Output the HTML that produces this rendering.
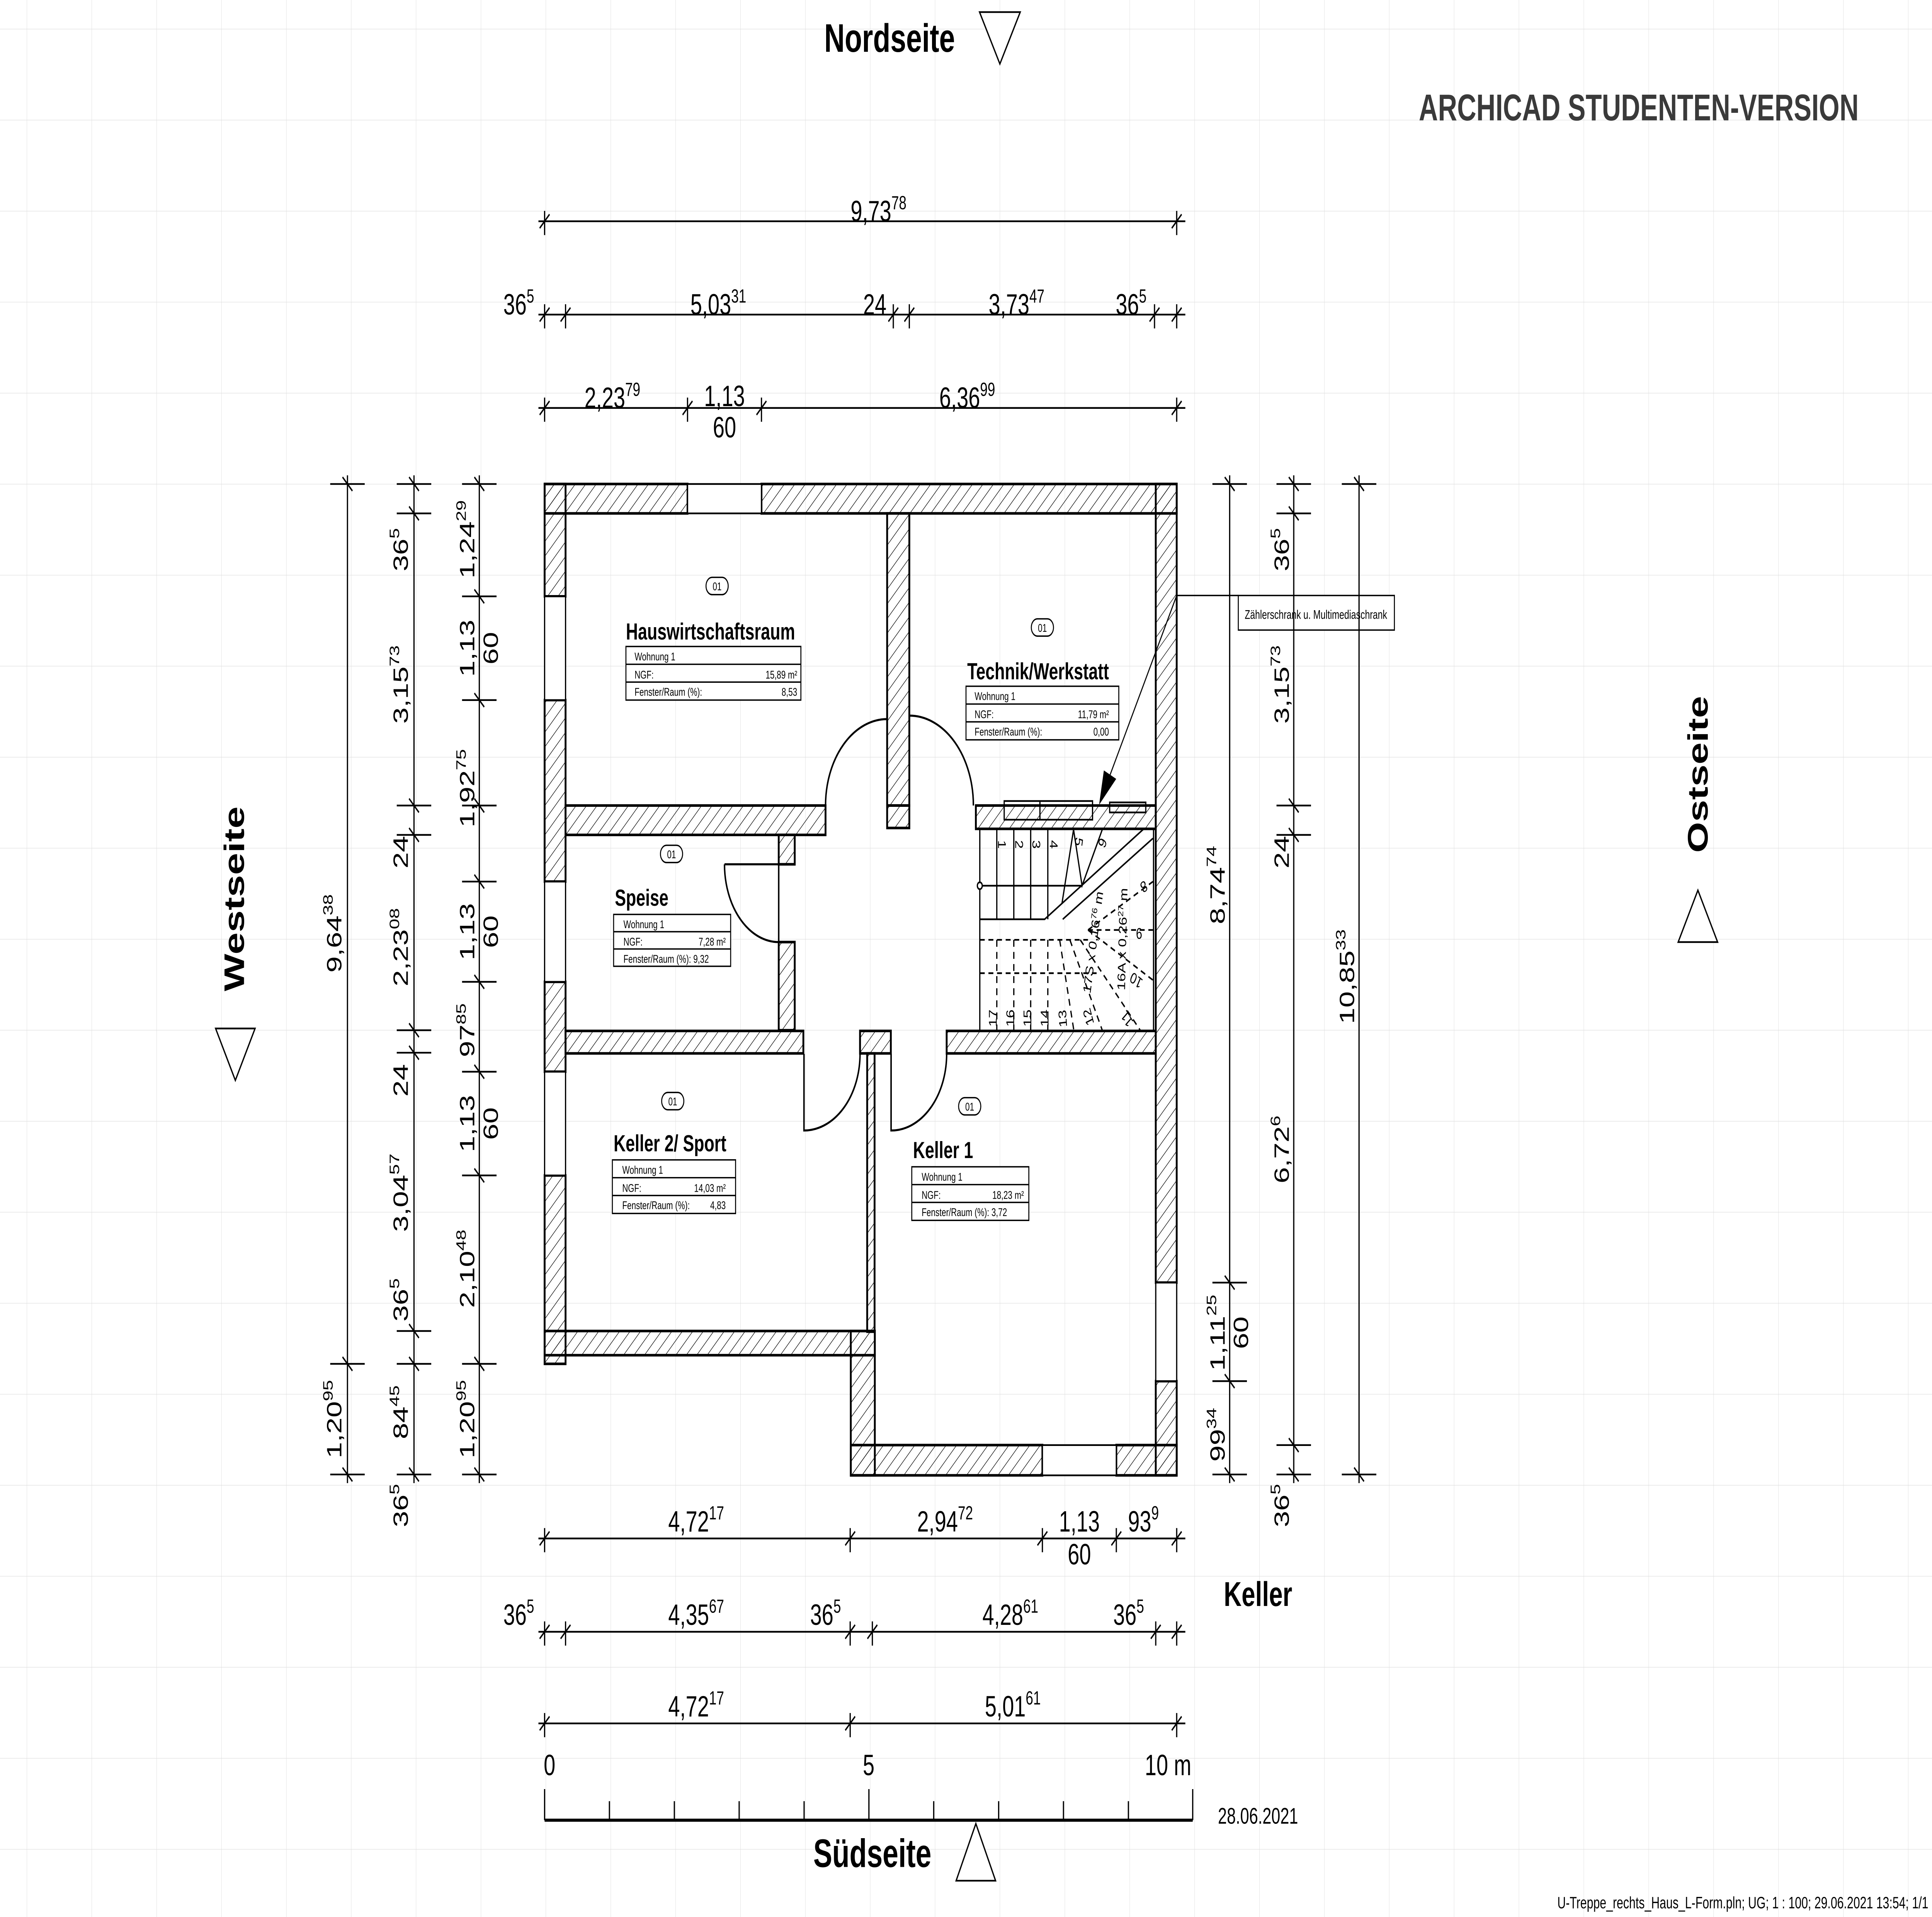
<!DOCTYPE html>
<html><head><meta charset="utf-8"><style>
html,body{margin:0;padding:0;background:#fff;width:100%;height:100%;overflow:hidden}
svg{display:block;position:absolute;left:0;top:0;width:100vw;height:100vh}
text{font-family:"Liberation Sans",sans-serif;fill:#000}
</style></head><body>
<svg viewBox="0 0 1568 1109" preserveAspectRatio="none" xmlns="http://www.w3.org/2000/svg">
<defs>
<pattern id="grid" patternUnits="userSpaceOnUse" x="21.7" y="16.7" width="52.65" height="52.65">
<path d="M0 0H52.65M0 0V52.65" stroke="#dcdcdc" stroke-width="0.5" fill="none"/>
</pattern>
<pattern id="h" patternUnits="userSpaceOnUse" width="6" height="6" patternTransform="rotate(45)">
<line x1="0" y1="0" x2="0" y2="6" stroke="#000" stroke-width="0.7"/>
</pattern>
<g id="th"><line x1="-4" y1="4" x2="4" y2="-4"/><line x1="0" y1="-6" x2="0" y2="8"/></g>
<g id="tv"><line x1="-4" y1="-4" x2="4" y2="4"/><line x1="-14" y1="0" x2="14" y2="0"/></g>
</defs>
<rect width="1568" height="1109" fill="#fff"/>
<rect width="1568" height="1109" fill="url(#grid)"/>

<text x="722" y="30" font-size="23" font-weight="bold" text-anchor="middle">Nordseite</text>
<path d="M795 7H828L811.5 37Z" fill="#fff" stroke="#000" stroke-width="1"/>
<text x="1330" y="69.6" font-size="21.5" font-weight="bold" text-anchor="middle" style="fill:#3a3a3a" textLength="357">ARCHICAD STUDENTEN-VERSION</text>
<text transform="translate(1386,448) rotate(-90)" font-size="23" font-weight="bold" text-anchor="middle">Ostseite</text>
<path d="M1362 545H1394L1378 515Z" fill="#fff" stroke="#000" stroke-width="1"/>
<text transform="translate(198,520) rotate(-90)" font-size="23" font-weight="bold" text-anchor="middle">Westseite</text>
<path d="M175 595H207L191 625Z" fill="#fff" stroke="#000" stroke-width="1"/>
<text x="708" y="1080" font-size="23" font-weight="bold" text-anchor="middle">Südseite</text>
<path d="M776 1088H808L792 1055Z" fill="#fff" stroke="#000" stroke-width="1"/>
<text x="1021" y="929" font-size="20" font-weight="bold" text-anchor="middle">Keller</text>
<text x="1565" y="1104" font-size="9.5" text-anchor="end">U-Treppe_rechts_Haus_L-Form.pln; UG; 1 : 100; 29.06.2021 13:54; 1/1</text>

<g fill="url(#h)" stroke="#000" stroke-width="1.5">
<rect x="442" y="280" width="116" height="17"/>
<rect x="618" y="280" width="337" height="17"/>
<rect x="442" y="280" width="17" height="65"/>
<rect x="442" y="405" width="17" height="105"/>
<rect x="442" y="568" width="17" height="52"/>
<rect x="442" y="680" width="17" height="109"/>
<rect x="442" y="770" width="268" height="14"/>
<rect x="690.5" y="770" width="19.5" height="83.5"/>
<rect x="690.5" y="836" width="155.5" height="17.5"/>
<rect x="906" y="836" width="49" height="17.5"/>
<rect x="938" y="280" width="17" height="462"/>
<rect x="938" y="799" width="17" height="54.5"/>
<rect x="720" y="297" width="18" height="169"/>
<rect x="459" y="466" width="211" height="17"/>
<rect x="720" y="466" width="18" height="13"/>
<rect x="792" y="466" width="146" height="13.5"/>
<rect x="632" y="483" width="13" height="17"/>
<rect x="632" y="545" width="13" height="51"/>
<rect x="459" y="596.4" width="193" height="13"/>
<rect x="698" y="596.4" width="25" height="13"/>
<rect x="768.3" y="596.4" width="169.7" height="13"/>
<rect x="703.8" y="609.4" width="6" height="161"/>
</g>
<g fill="#fff" stroke="#000" stroke-width="1">
<rect x="558" y="280" width="60" height="17"/>
<rect x="442" y="345" width="17" height="60"/>
<rect x="442" y="510" width="17" height="58"/>
<rect x="442" y="620" width="17" height="60"/>
<rect x="846" y="836" width="60" height="17.5"/>
<rect x="938" y="742" width="17" height="57"/>
</g>
<g fill="none" stroke="#000" stroke-width="1.2">
<path d="M670 466A50 50 0 0 1 720 416V466"/>
<path d="M790 466A52 52 0 0 0 738 414V466"/>
<path d="M588 500A44 45 0 0 0 632 545V500H588"/>
<path d="M652.5 609.7V654A45.5 44.3 0 0 0 698 609.7"/>
<path d="M723.2 609.7V654A45 44.3 0 0 0 768.3 609.7"/>
</g>
<g fill="none" stroke="#000" stroke-width="1">
<rect x="795.2" y="479.3" width="141" height="117"/>
<path d="M809 479.3V531.8M822.8 479.3V531.8M836.5 479.3V531.8M850.4 479.3V531.8M795.2 531.8H847.8L928.6 479.3M862.5 531.8L935.7 485"/>
<path d="M861.9 522.6L871.3 479.9L878.2 512.4L894.6 479.9M795.2 512.4H878.2"/>
<circle cx="795.2" cy="512.4" r="2" fill="#fff"/>
<rect x="815" y="463.4" width="71.7" height="10.8"/><line x1="844" y1="463.4" x2="844" y2="474.2"/>
<rect x="900.6" y="464.2" width="29.3" height="5.8"/>
<g stroke-dasharray="4,3">
<path d="M795.2 543.7H883M795.2 563H890M809 543.7V596M822.8 543.7V596M836.5 543.7V596M850.4 543.7V596"/>
<path d="M860 543.7L871.5 596M868.3 543.7L894.6 596M876.7 543.7L925.4 596M883 538L935.7 510M883 538H935.7M883 538L935.7 567"/>
</g>
</g>
<g font-size="9">
<text transform="translate(810,486) rotate(90)">1</text>
<text transform="translate(824,486) rotate(90)">2</text>
<text transform="translate(838,486) rotate(90)">3</text>
<text transform="translate(852,486) rotate(90)">4</text>
<text transform="translate(873,484) rotate(100)">5</text>
<text transform="translate(893,484) rotate(115)">6</text>
<text transform="translate(929,509) rotate(150)">8</text>
<text transform="translate(927,537) rotate(180)">9</text>
<text transform="translate(928,567) rotate(210)">10</text>
<text transform="translate(920,591) rotate(230)">11</text>
<text transform="translate(888,592) rotate(250)">12</text>
<text transform="translate(866,594) rotate(265)">13</text>
<text transform="translate(851,594) rotate(-90)">14</text>
<text transform="translate(837,594) rotate(-90)">15</text>
<text transform="translate(823,594) rotate(-90)">16</text>
<text transform="translate(809,594) rotate(-90)">17</text>
<text transform="translate(885,575) rotate(-80)">17S x 0,16<tspan dy="-3" font-size="6">76</tspan><tspan dy="3"> m</tspan></text>
<text transform="translate(913,573) rotate(-88)">16A x 0,26<tspan dy="-3" font-size="6">27</tspan><tspan dy="3"> m</tspan></text>
</g>

<rect x="1005" y="344.5" width="126.7" height="20" fill="#fff" stroke="#000" stroke-width="0.8"/>
<text x="1068" y="358" font-size="7.2" text-anchor="middle">Zählerschrank u. Multimediaschrank</text>
<path d="M1005 344.5H955L899 452" fill="none" stroke="#000" stroke-width="0.8"/>
<path d="M892 465.6L895.9 445.7L905.9 450.6Z" fill="#000"/>

<g stroke="#000" stroke-width="0.8" fill="#fff">
<rect x="573" y="334" width="18" height="10" rx="5"/>
<rect x="837" y="358" width="18" height="10" rx="5"/>
<rect x="536" y="489" width="18" height="10" rx="5"/>
<rect x="537" y="632" width="18" height="10" rx="5"/>
<rect x="778" y="635" width="18" height="10" rx="5"/>
<rect x="508" y="374" width="142" height="31"/><path d="M508 384.3H650M508 394.6H650"/>
<rect x="784" y="397" width="124" height="31"/><path d="M784 407.3H908M784 417.6H908"/>
<rect x="498" y="529" width="95" height="30"/><path d="M498 539H593M498 549H593"/>
<rect x="497" y="671" width="100" height="31"/><path d="M497 681.3H597M497 691.6H597"/>
<rect x="740" y="675" width="95" height="31"/><path d="M740 685.3H835M740 695.6H835"/>
</g>
<g font-size="6.5" text-anchor="middle">
<text x="582" y="341.5">01</text><text x="846" y="365.5">01</text><text x="545" y="496.5">01</text><text x="546" y="639.5">01</text><text x="787" y="642.5">01</text>
</g>
<g font-size="13.5" font-weight="bold">
<text x="508" y="370">Hauswirtschaftsraum</text>
<text x="785" y="393">Technik/Werkstatt</text>
<text x="499" y="524">Speise</text>
<text x="498" y="666">Keller 2/ Sport</text>
<text x="741" y="670">Keller 1</text>
</g>
<g font-size="6.5">
<text x="515" y="382">Wohnung 1</text><text x="515" y="392.5">NGF:</text><text x="515" y="402.5">Fenster/Raum (%):</text>
<text x="647" y="392.5" text-anchor="end">15,89 m²</text><text x="647" y="402.5" text-anchor="end">8,53</text>
<text x="791" y="405">Wohnung 1</text><text x="791" y="415.5">NGF:</text><text x="791" y="425.5">Fenster/Raum (%):</text>
<text x="900" y="415.5" text-anchor="end">11,79 m²</text><text x="900" y="425.5" text-anchor="end">0,00</text>
<text x="506" y="537">Wohnung 1</text><text x="506" y="547">NGF:</text><text x="506" y="557">Fenster/Raum (%): 9,32</text>
<text x="589" y="547" text-anchor="end">7,28 m²</text>
<text x="505" y="679">Wohnung 1</text><text x="505" y="689.5">NGF:</text><text x="505" y="699.5">Fenster/Raum (%):</text>
<text x="589" y="689.5" text-anchor="end">14,03 m²</text><text x="589" y="699.5" text-anchor="end">4,83</text>
<text x="748" y="683">Wohnung 1</text><text x="748" y="693.5">NGF:</text><text x="748" y="703.5">Fenster/Raum (%): 3,72</text>
<text x="831" y="693.5" text-anchor="end">18,23 m²</text>
</g>

<g stroke="#000" stroke-width="1" fill="none">
<path d="M437 128H962M437 182H962M437 236H962M437 890H962M437 944H962M437 997H962"/>
<path d="M282 275V858M336 275V858M389 275V858M998 275V858M1050 275V858M1103 275V858"/>
<use href="#th" x="442" y="128"/><use href="#th" x="955" y="128"/>
<use href="#th" x="442" y="182"/><use href="#th" x="459" y="182"/><use href="#th" x="725" y="182"/><use href="#th" x="738" y="182"/><use href="#th" x="937" y="182"/><use href="#th" x="955" y="182"/>
<use href="#th" x="442" y="236"/><use href="#th" x="558" y="236"/><use href="#th" x="618" y="236"/><use href="#th" x="955" y="236"/>
<use href="#th" x="442" y="890"/><use href="#th" x="690" y="890"/><use href="#th" x="846" y="890"/><use href="#th" x="906" y="890"/><use href="#th" x="955" y="890"/>
<use href="#th" x="442" y="944"/><use href="#th" x="459" y="944"/><use href="#th" x="690" y="944"/><use href="#th" x="708" y="944"/><use href="#th" x="938" y="944"/><use href="#th" x="955" y="944"/>
<use href="#th" x="442" y="997"/><use href="#th" x="690" y="997"/><use href="#th" x="955" y="997"/>
<use href="#tv" x="282" y="280"/><use href="#tv" x="282" y="789"/><use href="#tv" x="282" y="853"/>
<use href="#tv" x="336" y="280"/><use href="#tv" x="336" y="297"/><use href="#tv" x="336" y="466"/><use href="#tv" x="336" y="483"/><use href="#tv" x="336" y="596"/><use href="#tv" x="336" y="609"/><use href="#tv" x="336" y="770"/><use href="#tv" x="336" y="789"/><use href="#tv" x="336" y="853"/>
<use href="#tv" x="389" y="280"/><use href="#tv" x="389" y="345"/><use href="#tv" x="389" y="405"/><use href="#tv" x="389" y="466"/><use href="#tv" x="389" y="510"/><use href="#tv" x="389" y="568"/><use href="#tv" x="389" y="620"/><use href="#tv" x="389" y="680"/><use href="#tv" x="389" y="789"/><use href="#tv" x="389" y="853"/>
<use href="#tv" x="998" y="280"/><use href="#tv" x="998" y="742"/><use href="#tv" x="998" y="799"/><use href="#tv" x="998" y="853"/>
<use href="#tv" x="1050" y="280"/><use href="#tv" x="1050" y="297"/><use href="#tv" x="1050" y="466"/><use href="#tv" x="1050" y="483"/><use href="#tv" x="1050" y="836"/><use href="#tv" x="1050" y="853"/>
<use href="#tv" x="1103" y="280"/><use href="#tv" x="1103" y="853"/>
<path d="M442 1053H968" stroke-width="1.8"/>
<path d="M442 1053V1035M494.6 1053V1042M547.3 1053V1042M599.9 1053V1042M652.6 1053V1042M705.2 1053V1035M757.8 1053V1042M810.5 1053V1042M863.1 1053V1042M915.8 1053V1042M968 1053V1035"/>
</g>
<g font-size="17" text-anchor="middle">
<text x="713" y="128">9,73<tspan dy="-7" font-size="11">78</tspan></text>
<text x="421" y="182">36<tspan dy="-7" font-size="11">5</tspan></text>
<text x="583" y="182">5,03<tspan dy="-7" font-size="11">31</tspan></text>
<text x="710" y="182">24</text>
<text x="825" y="182">3,73<tspan dy="-7" font-size="11">47</tspan></text>
<text x="918" y="182">36<tspan dy="-7" font-size="11">5</tspan></text>
<text x="497" y="236">2,23<tspan dy="-7" font-size="11">79</tspan></text>
<text x="588" y="235">1,13</text><text x="588" y="253">60</text>
<text x="785" y="236">6,36<tspan dy="-7" font-size="11">99</tspan></text>
<text x="565" y="886">4,72<tspan dy="-7" font-size="11">17</tspan></text>
<text x="767" y="886">2,94<tspan dy="-7" font-size="11">72</tspan></text>
<text x="876" y="886">1,13</text><text x="876" y="905">60</text>
<text x="928" y="886">93<tspan dy="-7" font-size="11">9</tspan></text>
<text x="421" y="940">36<tspan dy="-7" font-size="11">5</tspan></text>
<text x="565" y="940">4,35<tspan dy="-7" font-size="11">67</tspan></text>
<text x="670" y="940">36<tspan dy="-7" font-size="11">5</tspan></text>
<text x="820" y="940">4,28<tspan dy="-7" font-size="11">61</tspan></text>
<text x="916" y="940">36<tspan dy="-7" font-size="11">5</tspan></text>
<text x="565" y="993">4,72<tspan dy="-7" font-size="11">17</tspan></text>
<text x="822" y="993">5,01<tspan dy="-7" font-size="11">61</tspan></text>
<text x="446" y="1027">0</text><text x="705" y="1027">5</text><text x="948" y="1027">10 m</text>
</g>
<text x="1021" y="1055" font-size="13" text-anchor="middle">28.06.2021</text>
<g font-size="17" text-anchor="middle">
<text transform="translate(277,540) rotate(-90)">9,64<tspan dy="-7" font-size="11">38</tspan></text>
<text transform="translate(277,821) rotate(-90)">1,20<tspan dy="-7" font-size="11">95</tspan></text>
<text transform="translate(331,318) rotate(-90)">36<tspan dy="-7" font-size="11">5</tspan></text>
<text transform="translate(331,396) rotate(-90)">3,15<tspan dy="-7" font-size="11">73</tspan></text>
<text transform="translate(331,493) rotate(-90)">24</text>
<text transform="translate(331,548) rotate(-90)">2,23<tspan dy="-7" font-size="11">08</tspan></text>
<text transform="translate(331,625) rotate(-90)">24</text>
<text transform="translate(331,690) rotate(-90)">3,04<tspan dy="-7" font-size="11">57</tspan></text>
<text transform="translate(331,752) rotate(-90)">36<tspan dy="-7" font-size="11">5</tspan></text>
<text transform="translate(331,817) rotate(-90)">84<tspan dy="-7" font-size="11">45</tspan></text>
<text transform="translate(331,871) rotate(-90)">36<tspan dy="-7" font-size="11">5</tspan></text>
<text transform="translate(385,312) rotate(-90)">1,24<tspan dy="-7" font-size="11">29</tspan></text>
<text transform="translate(385,375) rotate(-90)">1,13</text><text transform="translate(404,375) rotate(-90)">60</text>
<text transform="translate(385,456) rotate(-90)">1,92<tspan dy="-7" font-size="11">75</tspan></text>
<text transform="translate(385,539) rotate(-90)">1,13</text><text transform="translate(404,539) rotate(-90)">60</text>
<text transform="translate(385,596) rotate(-90)">97<tspan dy="-7" font-size="11">85</tspan></text>
<text transform="translate(385,650) rotate(-90)">1,13</text><text transform="translate(404,650) rotate(-90)">60</text>
<text transform="translate(385,734) rotate(-90)">2,10<tspan dy="-7" font-size="11">48</tspan></text>
<text transform="translate(385,821) rotate(-90)">1,20<tspan dy="-7" font-size="11">95</tspan></text>
<text transform="translate(994,512) rotate(-90)">8,74<tspan dy="-7" font-size="11">74</tspan></text>
<text transform="translate(994,771) rotate(-90)">1,11<tspan dy="-7" font-size="11">25</tspan></text><text transform="translate(1013,771) rotate(-90)">60</text>
<text transform="translate(994,830) rotate(-90)">99<tspan dy="-7" font-size="11">34</tspan></text>
<text transform="translate(1046,318) rotate(-90)">36<tspan dy="-7" font-size="11">5</tspan></text>
<text transform="translate(1046,396) rotate(-90)">3,15<tspan dy="-7" font-size="11">73</tspan></text>
<text transform="translate(1046,493) rotate(-90)">24</text>
<text transform="translate(1046,665) rotate(-90)">6,72<tspan dy="-7" font-size="11">6</tspan></text>
<text transform="translate(1046,871) rotate(-90)">36<tspan dy="-7" font-size="11">5</tspan></text>
<text transform="translate(1099,565) rotate(-90)">10,85<tspan dy="-7" font-size="11">33</tspan></text>
</g>
</svg>
</body></html>
